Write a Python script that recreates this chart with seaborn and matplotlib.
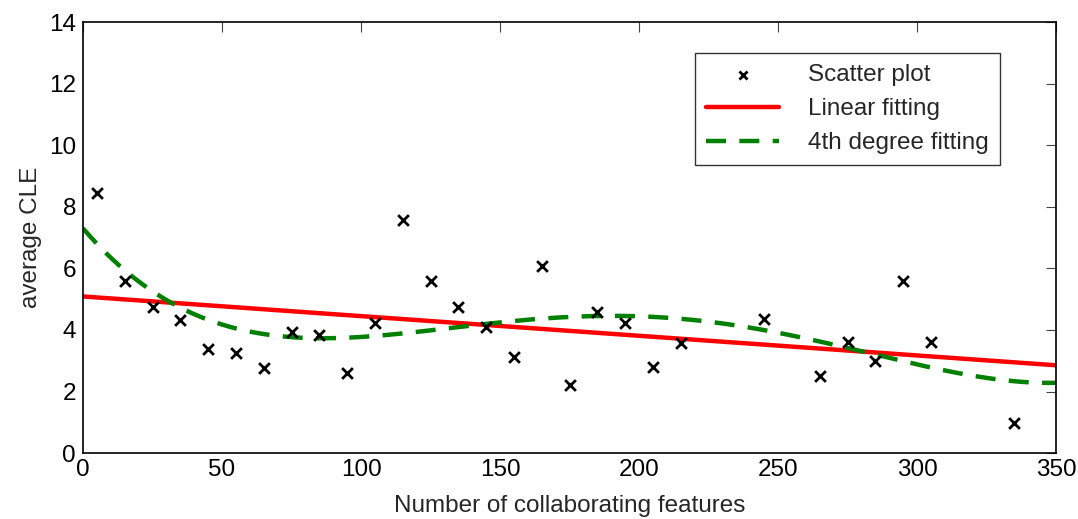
import numpy as np
import pandas as pd
import seaborn as sns
import matplotlib.pyplot as plt

# values
n_features = [5, 15, 25, 35, 45, 55, 65, 75, 85, 95, 105, 115, 125, 135, 145,
              155, 165, 175, 185, 195, 205, 215, 245, 265, 275, 285, 295, 305, 335]
avg_cle = [8.45, 5.60, 4.74, 4.33, 3.39, 3.25, 2.77, 3.93, 3.84, 2.61, 4.21, 7.57,
           5.59, 4.73, 4.08, 3.12, 6.07, 2.21, 4.59, 4.22, 2.80, 3.56, 4.34, 2.51,
           3.60, 2.98, 5.60, 3.60, 0.97]

sns.set_style('white')
plt.rcParams['font.family'] = ['Liberation Sans', 'DejaVu Sans']
fs = 17.5

df = pd.DataFrame({'x': n_features, 'y': avg_cle})

# polynomial fits of the scatter data
xs = np.linspace(0, 350, 400)
lin = np.polyval(np.polyfit(df['x'], df['y'], 1), xs)
quart = np.polyval(np.polyfit(df['x'], df['y'], 4), xs)
fits = pd.DataFrame({'x': xs, 'lin': lin, 'quart': quart})

fig = plt.figure(figsize=(10.78, 5.19), dpi=100)
ax = fig.add_axes([0.077, 0.127, 0.9026, 0.8306])

sns.scatterplot(data=df, x='x', y='y', marker='x', color='black', s=60,
                linewidth=2, ax=ax, label='Scatter plot', zorder=3)
sns.lineplot(data=fits, x='x', y='lin', color='red', linewidth=3.2, ax=ax,
             label='Linear fitting')
sns.lineplot(data=fits, x='x', y='quart', color='green', linewidth=3.2, ax=ax,
             linestyle=(0, (4.5, 3)), label='4th degree fitting')

ax.set_xlim(0, 350)
ax.set_ylim(0, 14)
ax.set_xticks(range(0, 351, 50))
ax.set_yticks(range(0, 15, 2))
ax.tick_params(direction='in', length=7, width=0.8, top=True, right=True,
               colors='#444444', labelcolor='black', labelsize=fs)
ax.tick_params(axis='x', pad=4)
ax.tick_params(axis='y', pad=5)
for sp in ax.spines.values():
    sp.set_color('black')
    sp.set_linewidth(1.2)

ax.set_xlabel('Number of collaborating features', fontsize=fs, labelpad=10)
ax.set_ylabel('average CLE', fontsize=fs, labelpad=5)

leg = ax.legend(loc='upper right', bbox_to_anchor=(0.9425, 0.928), fontsize=fs,
                frameon=True, fancybox=False, edgecolor='black', handlelength=3.0,
                labelspacing=0.5, borderpad=0.45, handletextpad=1.2,
                borderaxespad=0, markerscale=0.75)
leg.get_frame().set_linewidth(1.0)

fig.savefig('out.png', dpi=100)
